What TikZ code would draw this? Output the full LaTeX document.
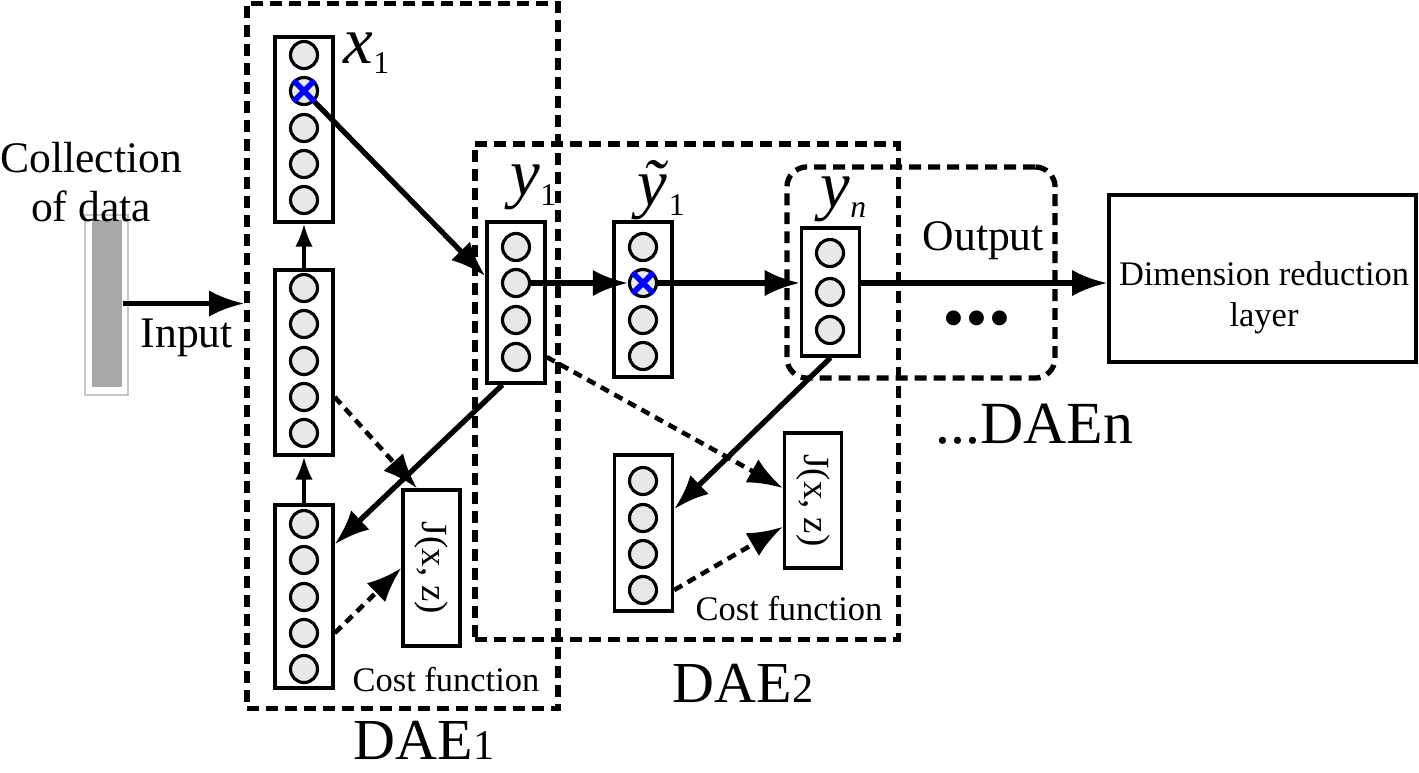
\documentclass[tikz,border=0pt]{standalone}
\usepackage{fontspec}
\setmainfont{Liberation Serif}
\usetikzlibrary{arrows.meta,calc}
\tikzstyle{unit}=[circle,draw,line width=0.9pt,fill=black!9,minimum size=0.27cm,inner sep=0pt]
\tikzstyle{layer}=[draw,line width=0.95pt,inner sep=0pt,minimum width=0.58cm]
\tikzstyle{costbox}=[draw,line width=0.95pt,inner sep=0pt,minimum width=0.57cm,font=\fontsize{10.5}{12}\selectfont]
\tikzstyle{daebox}=[draw,line width=1.5pt,dash pattern=on 3.4pt off 2pt,inner sep=0pt]
\tikzstyle{edge}=[draw,line width=1.5pt,-{Latex[length=10pt,width=7.5pt]}]
\tikzstyle{smalledge}=[draw,line width=1pt,-{Latex[length=6.5pt,width=5pt]}]
\tikzstyle{costedge}=[draw,line width=1.3pt,dash pattern=on 2.6pt off 1.8pt,-{Latex[length=10pt,width=7.5pt]}]
\tikzstyle{noise}=[draw=blue,line width=1.6pt]
\tikzstyle{txt}=[inner sep=0pt,font=\fontsize{12.4}{14}\selectfont]
\tikzstyle{smalltxt}=[inner sep=0pt,font=\fontsize{9.8}{11.7}\selectfont]
\tikzstyle{daelbl}=[inner sep=0pt,font=\fontsize{16.5}{18}\selectfont]
\newcommand{\vecname}[2]{{\fontsize{19}{20}\selectfont\textit{#1}}\raisebox{-3pt}{\fontsize{9}{10}\selectfont #2}}

\begin{document}
\begin{tikzpicture}[x=0.01cm,y=-0.01cm]
\useasboundingbox (0,0) rectangle (1419,772);

    % dashed frames
    \node[daebox,minimum width=3.11cm,minimum height=7.04cm] (dae1) at (402.5,356) {};
    \node[daebox,minimum width=4.23cm,minimum height=4.95cm] (dae2) at (686.5,391.5) {};
    \node[daebox,rounded corners=0.2cm,minimum width=2.68cm,minimum height=2.11cm] (outbox) at (921,272.5) {};

    % collected data
    \node[draw=black!22,line width=0.5pt,minimum width=0.43cm,minimum height=1.80cm,inner sep=0pt] (bar) at (106.5,305) {};
    \node[fill=black!34,minimum width=0.30cm,minimum height=1.67cm,inner sep=0pt] (barfill) at (107,303.5) {};
    \node[txt,align=center] (coll) at (91,182) {Collection\\of data};
    \node[txt,anchor=base west] (inputlbl) at (140,347) {Input};

    % layers
    \foreach \pos/ \name/ \h in {{(304,129.5)/xone/1.85cm},{(304,362.5)/hone/1.85cm},{(304,596.5)/zone/1.83cm},{(516,302.5)/yone/1.61cm},{(643,299.5)/ytil/1.55cm},{(830.5,292)/yn/1.28cm},{(643.5,533)/ztwo/1.56cm}}
        \node[layer,minimum height=\h] (\name) at \pos {};

    \foreach \i/ \y in {1/55,2/91,3/128,4/164,5/200} \node[unit] (xone\i) at (304,\y) {};
    \foreach \i/ \y in {1/288,2/324,3/361,4/397,5/433} \node[unit] (hone\i) at (304,\y) {};
    \foreach \i/ \y in {1/524,2/560,3/597,4/633,5/669} \node[unit] (zone\i) at (304,\y) {};
    \foreach \i/ \y in {1/247,2/283,3/320,4/357} \node[unit] (yone\i) at (516,\y) {};
    \foreach \i/ \y in {1/247,2/283,3/320,4/356} \node[unit] (ytil\i) at (643,\y) {};
    \foreach \i/ \y in {1/253,2/292,3/330} \node[unit] (yn\i) at (830,\y) {};
    \foreach \i/ \y in {1/481,2/518,3/554,4/590} \node[unit] (ztwo\i) at (643,\y) {};

    \node[anchor=base west,inner sep=0pt] (xlbl) at (343,63) {\vecname{x}{1}};
    \node[anchor=base west,inner sep=0pt] (ylbl) at (510,195) {\vecname{y}{1}};
    \node[anchor=base west,inner sep=0pt] (ytlbl) at (637,205) {\vecname{\~{y}}{1}};
    \node[anchor=base west,inner sep=0pt] (ynlbl) at (820,207) {\vecname{y}{\textit{n}}};

    % cost functions
    \node[costbox,minimum height=1.56cm] (jone) at (431.5,568) {\rotatebox{-90}{J(x, z)}};
    \node[costbox,minimum height=1.35cm] (jtwo) at (813,500.5) {\rotatebox{-90}{J(x, z)}};
    \node[smalltxt,anchor=base] (cost1) at (446,691) {Cost function};
    \node[smalltxt,anchor=base] (cost2) at (789,620) {Cost function};

    % output side
    \node[txt,anchor=base west] (outlbl) at (922,250) {Output};
    \node[inner sep=0pt,font=\fontsize{26}{28}\selectfont\bfseries] (dots) at (977,318) {...};
    \node[draw,line width=0.95pt,minimum width=3.07cm,minimum height=1.67cm] (dim) at (1262.5,278.5) {};
    \node[smalltxt,align=center] (dimtxt) at (1264,298) {Dimension reduction\\layer};

    \node[daelbl,anchor=base] (dae1lbl) at (424,759) {DAE{\fontsize{12}{12}\selectfont 1}};
    \node[daelbl,anchor=base] (dae2lbl) at (743,702) {DAE{\fontsize{12}{12}\selectfont 2}};
    \node[daelbl,anchor=base west,font=\fontsize{17}{18}\selectfont] (daenlbl) at (935,443) {...DAEn};

    % connections
    \path[edge] (barfill.east) -- (barfill.east -| dae1.west);
    \path[edge] (xone2) -- ($(yone.north west)!0.34!(yone.south west)$);
    \path[edge] (yone2) -- (ytil2);
    \path[edge] (ytil2) -- (ytil2 -| yn.west);
    \path[edge] (yn.east |- ytil2) -- (ytil2 -| dim.west);
    \path[edge] ($(yone.south west)!0.28!(yone.south east)$) -- ($(zone.north east)!0.22!(zone.south east)$);
    \path[edge] (yn.south) -- ($(ztwo.north east)!0.35!(ztwo.south east)$);
    \path[smalledge] (hone.north) -- (xone.south);
    \path[smalledge] (zone.north) -- (hone.south);
    \path[costedge] (hone.east |- hone4) -- ($(jone.north west)!0.26!(jone.north east)$);
    \path[costedge] (zone.east |- zone4) -- (jone.west);
    \path[costedge] (yone.east |- yone4) -- ($(jtwo.north west)!0.41!(jtwo.south west)$);
    \path[costedge] (ztwo.east |- ztwo4) -- ($(jtwo.north west)!0.69!(jtwo.south west)$);

    % corrupted units
    \draw[noise] (xone2.north west) -- (xone2.south east) (xone2.north east) -- (xone2.south west);
    \draw[noise] (ytil2.north west) -- (ytil2.south east) (ytil2.north east) -- (ytil2.south west);

\end{tikzpicture}
\end{document}
